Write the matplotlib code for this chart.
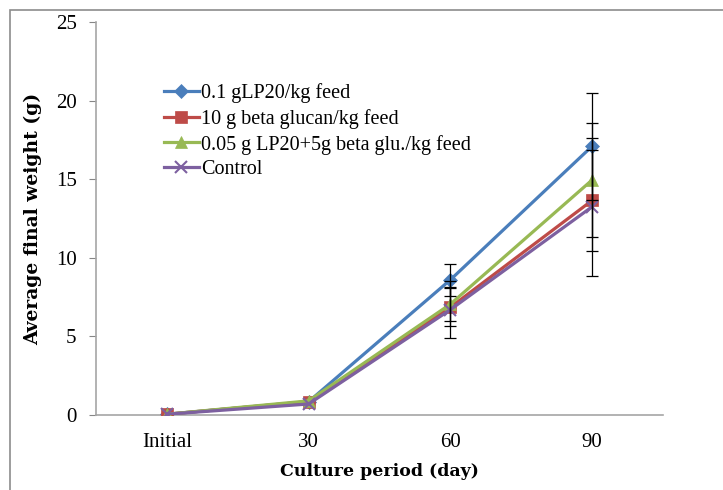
import matplotlib.pyplot as plt
import matplotlib.patches as patches
import numpy as np

categories = ['Initial', '30', '60', '90']
lp20 = [0.05, 0.85, 8.6, 17.1]
lp20_err = [0.0, 0.0, 1.0, 3.4]
glucan = [0.05, 0.85, 6.85, 13.65]
glucan_err = [0.0, 0.0, 1.2, 3.2]
combo = [0.05, 0.9, 7.05, 14.95]
combo_err = [0.0, 0.0, 1.1, 3.6]
control = [0.05, 0.7, 6.7, 13.25]
control_err = [0.0, 0.0, 1.8, 4.4]

labels = ['0.1 gLP20/kg feed', '10 g beta glucan/kg feed',
          '0.05 g LP20+5g beta glu./kg feed', 'Control']

plt.rcParams['font.family'] = ['Liberation Serif', 'DejaVu Serif']

fig = plt.figure(figsize=(7.23, 4.90), dpi=100)
# outer chart frame
fig.patches.append(patches.Rectangle((10/723, -0.1), 1.2, 1 - 10/490 + 0.1, transform=fig.transFigure,
                                     fill=False, edgecolor='#8c8c8c', linewidth=1.2))
ax = fig.add_axes([96/723, 75/490, 567/723, 393/490])

x = np.arange(len(categories)) + 0.5
series = [
    (lp20, lp20_err, '#4a7ebb', 'D', 7),
    (glucan, glucan_err, '#be4b48', 's', 8),
    (combo, combo_err, '#98b954', '^', 9),
    (control, control_err, '#7d60a0', 'x', 8),
]
for (vals, errs, col, mk, ms), lab in zip(series, labels):
    ax.plot(x, vals, color=col, marker=mk, markersize=ms, linewidth=2.3,
            markeredgewidth=1.5 if mk == 'x' else 0.5, label=lab, zorder=3)
for vals, errs, col, mk, ms in series:
    keep = np.array(errs) > 0
    ax.errorbar(x[keep], np.array(vals)[keep], yerr=np.array(errs)[keep], fmt='none',
                ecolor='black', elinewidth=0.9, capsize=4, capthick=0.9, zorder=4)

ax.set_xlim(0, 4)
ax.set_ylim(0, 25)
ax.set_xticks(x)
ax.set_xticklabels(categories)
ax.set_yticks(range(0, 26, 5))
ax.tick_params(axis='x', length=0, pad=13, labelsize=15)
ax.tick_params(axis='y', length=5, pad=9, labelsize=15, color='#868686')

for s in ['top', 'right']:
    ax.spines[s].set_visible(False)
for s in ['left', 'bottom']:
    ax.spines[s].set_color('#a6a6a6')
    ax.spines[s].set_linewidth(1.2)

ax.set_xlabel('Culture period (day)', fontsize=12.5, fontweight='bold', labelpad=8,
              family=['DejaVu Serif'])
ax.set_ylabel('Average final weight (g)', fontsize=13.5, fontweight='bold', labelpad=10,
              family=['DejaVu Serif'])

ax.legend(loc='upper left', bbox_to_anchor=(0.105, 0.864), frameon=False, fontsize=14.5,
          handlelength=1.75, handletextpad=0.1, labelspacing=0.28, borderaxespad=0)

fig.savefig('out.png', dpi=100)
